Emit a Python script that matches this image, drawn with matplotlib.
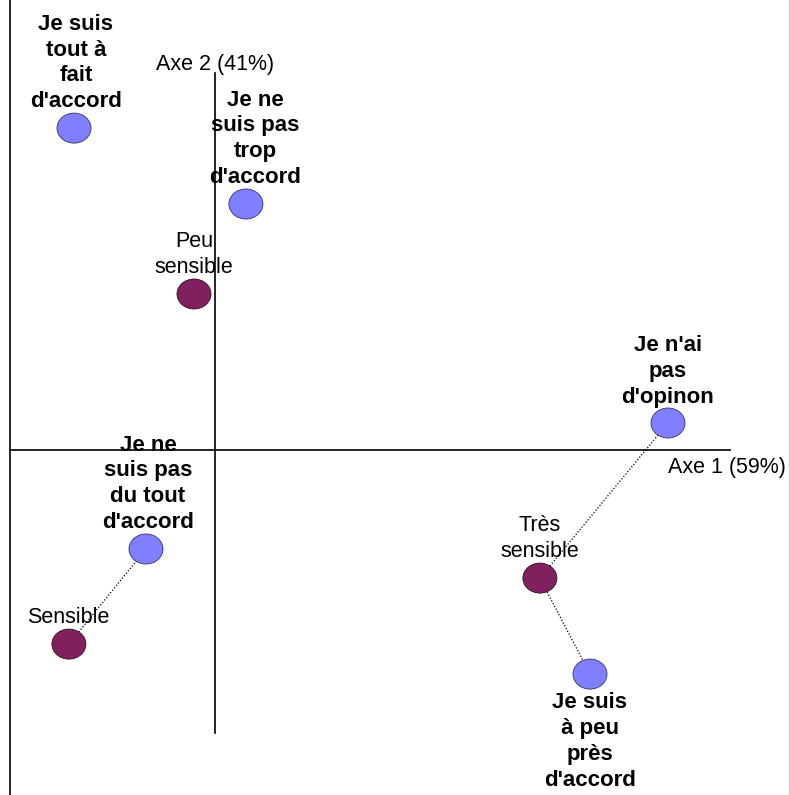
import matplotlib
matplotlib.use("Agg")
import matplotlib.pyplot as plt
from matplotlib.patches import Ellipse
from matplotlib.lines import Line2D

plt.rcParams['font.family'] = ['Liberation Sans', 'DejaVu Sans']

# Modalities (correspondence analysis coordinates)
answer_labels = ["Je suis\ntout à\nfait\nd'accord", "Je ne\nsuis pas\ntrop\nd'accord",
                 "Je n'ai\npas\nd'opinon", "Je ne\nsuis pas\ndu tout\nd'accord",
                 "Je suis\nà peu\nprès\nd'accord"]
answer_x = [-0.47, 0.103, 1.51, -0.23, 1.25]
answer_y = [1.073, 0.82, 0.09, -0.33, -0.747]

sens_labels = ["Peu\nsensible", "Très\nsensible", "Sensible"]
sens_x = [-0.07, 1.083, -0.487]
sens_y = [0.52, -0.427, -0.647]

# links (sensitivity index, answer index)
links = [(1, 2), (1, 4), (2, 3)]

axis1_label = "Axe 1 (59%)"
axis2_label = "Axe 2 (41%)"

# label offsets in pixels (dx, dy)
answer_off = [(2, 16), (9, 16), (0, 15), (2, 16), (0, -18)]
sens_off = [(0, 16), (0, 16), (-1, 16)]

W, H = 790, 795
fig = plt.figure(figsize=(W / 100, H / 100), dpi=100)
ax = fig.add_axes([0, 0, 1, 1])
ax.set_xlim(-215 / 300, 575 / 300)
ax.set_ylim(-345 / 300, 450 / 300)
ax.axis('off')

# axes lines
ax.plot([-0.683, 1.717], [0, 0], color='black', lw=1.2, zorder=2)
ax.plot([0, 0], [-0.943, 1.257], color='black', lw=1.2, zorder=2)
ax.text(0, 1.25, axis2_label, ha='center', va='bottom', fontsize=15.5, zorder=1)
ax.text(1.51, -0.022, axis1_label, ha='left', va='top', fontsize=15.5, zorder=1)

# dotted links
for si, ai in links:
    ax.plot([sens_x[si], answer_x[ai]], [sens_y[si], answer_y[ai]],
            color='black', lw=0.9, ls=(0, (1, 1.5)), zorder=3)

ew, eh = 34 / 300, 30 / 300
blue = '#8080FF'
purple = '#80205F'
for x, y in zip(answer_x, answer_y):
    ax.add_patch(Ellipse((x, y), ew, eh, facecolor=blue, edgecolor='#333366', lw=0.6, zorder=4))
for x, y in zip(sens_x, sens_y):
    ax.add_patch(Ellipse((x, y), ew, eh, facecolor=purple, edgecolor='#301020', lw=0.6, zorder=4))

for lab, x, y, (dx, dy) in zip(answer_labels, answer_x, answer_y, answer_off):
    ax.annotate(lab, (x, y), xytext=(dx, dy), textcoords='offset pixels',
                ha='center', va='bottom' if dy > 0 else 'top', fontsize=16,
                fontweight='bold', linespacing=1.3, zorder=1)
for lab, x, y, (dx, dy) in zip(sens_labels, sens_x, sens_y, sens_off):
    ax.annotate(lab, (x, y), xytext=(dx, dy), textcoords='offset pixels',
                ha='center', va='bottom', fontsize=15.5, linespacing=1.3, zorder=1)

# frame lines
fig.add_artist(Line2D([9.5 / W, 9.5 / W], [0, 1], color='black', lw=1.2))
fig.add_artist(Line2D([788.5 / W, 788.5 / W], [0, 1], color='#d0d0d0', lw=1.0))

fig.savefig('out.png', dpi=100)
